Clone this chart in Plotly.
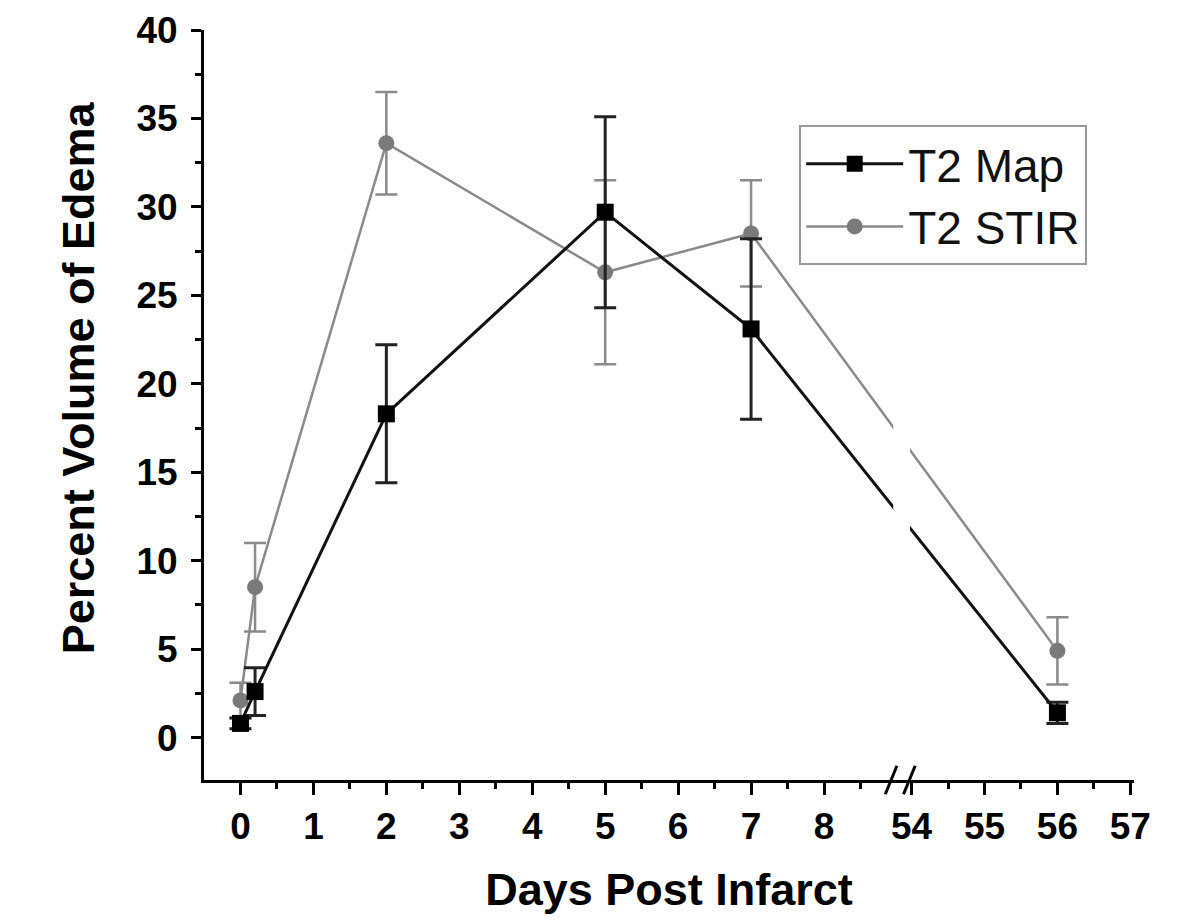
import plotly.graph_objects as go

# ---- data ----
days = [0, 0.2, 2, 5, 7, 56]
t2map = [0.8, 2.6, 18.3, 29.7, 23.1, 1.4]
t2map_err = [0.3, 1.35, 3.9, 5.4, 5.1, 0.6]
t2stir = [2.1, 8.5, 33.6, 26.3, 28.5, 4.9]
t2stir_err = [1.0, 2.5, 2.9, 5.2, 3.0, 1.9]
xtick_days = [0, 1, 2, 3, 4, 5, 6, 7, 8, 54, 55, 56, 57]
xminor_days = [0.5, 1.5, 2.5, 3.5, 4.5, 5.5, 6.5, 7.5, 8.5, 54.5, 55.5, 56.5]
ytick_vals = [0, 5, 10, 15, 20, 25, 30, 35, 40]

# broken-axis scale: segment 0..8 and 54..57
SEG2_START = 54
SEG2_POS = 9.2
BREAK_LO, BREAK_HI = 8.95, 9.18


def bx(d):
    return d if d <= 8.5 else d - SEG2_START + SEG2_POS


FONT = "Liberation Sans, Arial, sans-serif"

fig = go.Figure()
fig.add_trace(go.Scatter(
    x=[bx(d) for d in days], y=t2stir, name="T2 STIR", mode="lines+markers",
    line=dict(color="#8a8a8a", width=2.5),
    marker=dict(symbol="circle", size=16, color="#7a7a7a"),
    error_y=dict(type="data", array=t2stir_err, visible=True, color="#8a8a8a",
                 thickness=2.5, width=11),
))
fig.add_trace(go.Scatter(
    x=[bx(d) for d in days], y=t2map, name="T2 Map", mode="lines+markers",
    line=dict(color="#111111", width=3),
    marker=dict(symbol="square", size=17, color="#000000"),
    error_y=dict(type="data", array=t2map_err, visible=True, color="#222222",
                 thickness=3, width=11),
))

# gap in the lines at the axis break
fig.add_shape(type="rect", xref="x", yref="y", x0=BREAK_LO, x1=BREAK_HI,
              y0=-1.5, y1=39, fillcolor="white", line=dict(width=0), layer="above")
# break marks on the x axis
for cx in [8.92, 9.17]:
    fig.add_shape(type="line", xref="x", yref="paper", x0=cx - 0.08, x1=cx + 0.08,
                  y0=-0.019, y1=0.019, line=dict(color="black", width=3), layer="above")

# y-axis title (placed as rotated text, slightly above centre as in the original)
fig.add_annotation(
    text="<b>Percent Volume of Edema</b>", textangle=-90,
    xref="paper", yref="paper", x=-0.1355, y=0.537,
    xanchor="center", yanchor="middle", showarrow=False,
    font=dict(family=FONT, size=45, color="black"),
)

fig.update_layout(
    width=1200, height=921,
    margin=dict(l=196, r=74, t=22, b=149),
    plot_bgcolor="white", paper_bgcolor="white",
    showlegend=True,
    legend=dict(
        x=0.64, y=0.873, xanchor="left", yanchor="top",
        traceorder="reversed",
        bordercolor="#999999", borderwidth=2, bgcolor="white",
        font=dict(family=FONT, size=46, color="#111111"),
        itemwidth=97, tracegroupgap=0,
    ),
)
fig.update_xaxes(
    range=[-0.5, 12.25], showgrid=False, zeroline=False, automargin=False,
    showline=True, linecolor="black", linewidth=3,
    tickmode="array", tickvals=[bx(d) for d in xtick_days],
    ticktext=[str(d) for d in xtick_days],
    ticks="outside", ticklen=12, tickwidth=3, tickcolor="black",
    minor=dict(tickmode="array", tickvals=[bx(d) for d in xminor_days],
               ticks="outside", ticklen=6, tickwidth=3, tickcolor="black"),
    tickfont=dict(family=FONT, size=37, color="black", weight="bold"),
    title=dict(text="<b>Days Post Infarct</b>", font=dict(family=FONT, size=45, color="black"),
               standoff=28),
)
fig.update_yaxes(
    range=[-2.4, 40], showgrid=False, zeroline=False, automargin=False,
    showline=True, linecolor="black", linewidth=3,
    tickmode="array", tickvals=ytick_vals, ticktext=[str(v) for v in ytick_vals],
    ticks="outside", ticklen=10, tickwidth=3, tickcolor="black",
    minor=dict(tickmode="array", tickvals=[v + 2.5 for v in ytick_vals[:-1]],
               ticks="outside", ticklen=6, tickwidth=3, tickcolor="black"),
    tickfont=dict(family=FONT, size=37, color="black", weight="bold"),
    ticklabelstandoff=6,
)

fig.write_html("out.html")
